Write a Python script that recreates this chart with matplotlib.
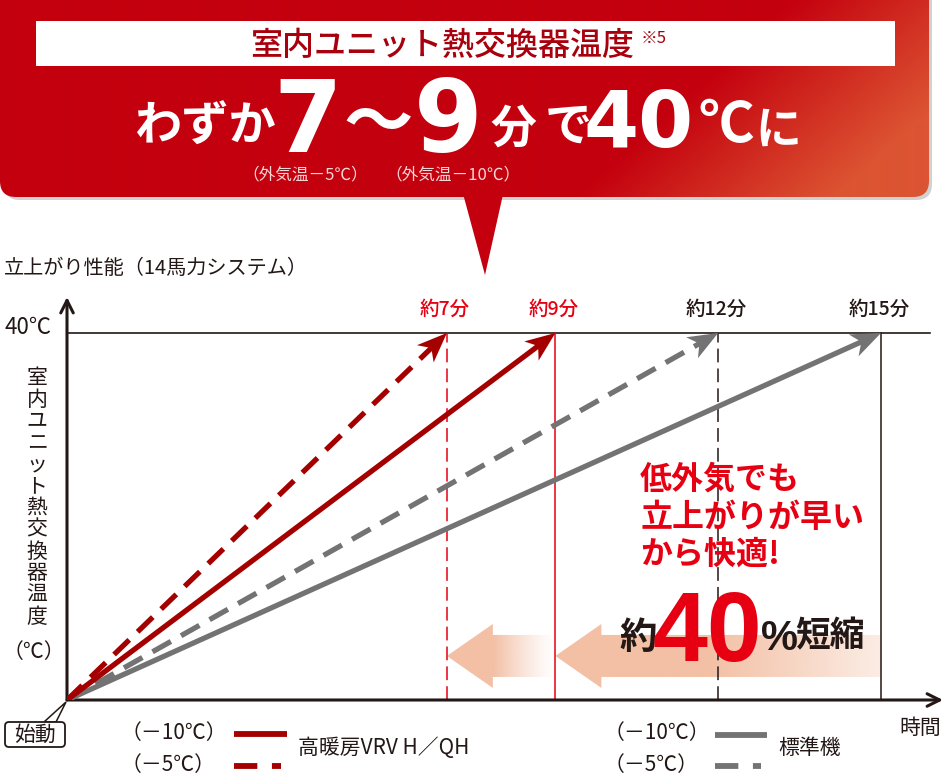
import numpy as np
import matplotlib
matplotlib.use("Agg")
import matplotlib.pyplot as plt
from matplotlib.patches import Polygon, FancyBboxPatch, Rectangle

plt.rcParams['font.family'] = ['Noto Sans CJK JP', 'DejaVu Sans']

# --- data -------------------------------------------------------------
times = [15, 12, 9, 7]               # 分で40℃に到達
outdoor = ["-10", "-5", "-10", "-5"]  # 外気温
models = ["標準機", "標準機", "高暖房VRV H／QH", "高暖房VRV H／QH"]
target_temp = 40
time_labels = ["約15分", "約12分", "約9分", "約7分"]

# 短縮を示す矢印 (遅い方 -> 速い方)
short_from = [9, 15]
short_to = [7, 9]

RED_LINE = '#a50000'
GREY_LINE = '#737373'
RED_TXT = '#e60012'
INK = '#231815'

fig = plt.figure(figsize=(9.46, 7.84), dpi=100)

# chart axes in pixel layout: origin (67,700), top 297, right 943
X0, Y0, XR, YT = 67, 700, 943, 297
px_min = (881 - X0) / 15.0
px_deg = (Y0 - 333) / 40.0
ax = fig.add_axes([X0 / 946, (784 - Y0) / 784, (XR - X0) / 946, (Y0 - YT) / 784])
ax.set_xlim(0, (XR - X0) / px_min)
ax.set_ylim(0, (Y0 - YT) / px_deg)
ax.axis('off')

# overlay axes in pixel coords
ov = fig.add_axes([0, 0, 1, 1], zorder=5)
ov.set_xlim(0, 946)
ov.set_ylim(784, 0)
ov.axis('off')
ov.patch.set_alpha(0)


def d2p(x, y):
    return X0 + x * px_min, Y0 - y * px_deg


def p2d(px, py):
    return (px - X0) / px_min, (Y0 - py) / px_deg


# shortening arrows (salmon gradient)
yc = 4.8
body_h = 21 / px_deg
head_h = 32 / px_deg
head_l = 46 / px_min
for k, (t0, t1) in enumerate(zip(short_from, short_to)):
    xb = t1 + head_l
    poly = Polygon([(t1, yc), (xb, yc + head_h), (xb, yc + body_h), (t0, yc + body_h),
                    (t0, yc - body_h), (xb, yc - body_h), (xb, yc - head_h)],
                   closed=True, facecolor='none', edgecolor='white' if k == 1 else 'none',
                   lw=1.5, zorder=1)
    ax.add_patch(poly)
    xs = np.linspace(t1, t0, 300)
    if k == 0:
        alpha = np.clip(1 - (xs - xb) / (t0 - xb), 0, 1) ** 1.3
        alpha = np.where(xs < xb, 1, alpha)
    else:
        mid = xb + 2.0
        alpha = np.where(xs < mid, 1, 1 - 0.7 * (xs - mid) / (t0 - mid))
    img = np.zeros((2, 300, 4))
    img[..., 0] = 243 / 255
    img[..., 1] = 192 / 255
    img[..., 2] = 165 / 255
    img[..., 3] = alpha
    im = ax.imshow(img, extent=(t1, t0, yc - head_h, yc + head_h), aspect='auto', zorder=1)
    im.set_clip_path(poly)
ax.set_xlim(0, (XR - X0) / px_min)
ax.set_ylim(0, (Y0 - YT) / px_deg)

# 40℃ line and vertical guides
ax.plot([0, (930 - X0) / px_min], [target_temp, target_temp], color=INK, lw=1.2, zorder=2)
guide_col = {15: INK, 12: INK, 9: RED_TXT, 7: RED_TXT}
guide_ls = {15: '-', 12: (0, (9, 4)), 9: '-', 7: (0, (9, 4))}
for t in times:
    ax.plot([t, t], [0, target_temp], color=guide_col[t], ls=guide_ls[t], lw=1.1, zorder=2)

# axes arrows
ax.annotate('', xy=(1, 0), xytext=(0, 0), xycoords='axes fraction',
            arrowprops=dict(arrowstyle='->,head_length=0.9,head_width=0.45', lw=2.2, color=INK,
                            shrinkA=0, shrinkB=0), zorder=3)
ax.annotate('', xy=(0, 1), xytext=(0, 0), xycoords='axes fraction',
            arrowprops=dict(arrowstyle='->,head_length=0.9,head_width=0.45', lw=2.2, color=INK,
                            shrinkA=0, shrinkB=0), zorder=3)

# rise lines with arrow heads
for t, o in zip(times, outdoor):
    col = RED_LINE if t in (9, 7) else GREY_LINE
    ls = '-' if o == "-10" else (0, (4, 2.2))
    tx, ty = d2p(t, target_temp)
    ox, oy = d2p(0, 0)
    v = np.array([tx - ox, ty - oy])
    u = v / np.hypot(*v)
    n = np.array([-u[1], u[0]])
    L, W = 30, 12
    tip = np.array([tx, ty])
    back = tip - L * u
    notch = tip - 0.72 * L * u
    head = [p2d(*tip), p2d(*(back + W * n)), p2d(*notch), p2d(*(back - W * n))]
    lx, ly = p2d(*(notch + 2 * u))
    ax.plot([0, lx], [0, ly], color=col, lw=3.8, ls=ls, solid_capstyle='butt',
            dash_capstyle='butt', zorder=4)
    ax.add_patch(Polygon(head, closed=True, color=col, lw=0, zorder=4))

for t, lab in zip(times, time_labels):
    c = RED_TXT if t in (9, 7) else INK
    x, _ = d2p(t, 0)
    ov.text(x - 2, 309, lab, color=c, fontsize=14, ha='center', va='center', fontweight='medium')

# axis texts
ov.text(4, 268, "立上がり性能（14馬力システム）", fontsize=14.5, ha='left', va='center', color=INK)
ov.text(4, 327, "40℃", fontsize=16, ha='left', va='center', color=INK)
for i, ch in enumerate("室内ユニット熱交換器温度"):
    ov.text(37, 378 + i * 21.7, ch, fontsize=15, ha='center', va='center', color=INK)
ov.text(34, 652, "（℃）", fontsize=15, ha='center', va='center', color=INK)
ov.text(920, 728, "時間", fontsize=15, ha='center', va='center', color=INK)

ov.add_patch(Polygon([(44, 722), (66, 702), (56, 722)], closed=True, fc='white', ec=INK, lw=1.1, zorder=6))
ov.add_patch(FancyBboxPatch((5, 722), 60, 25, boxstyle='round,pad=0,rounding_size=4',
                            fc='white', ec=INK, lw=1.3, zorder=7))
ov.text(35, 735, "始動", fontsize=15, ha='center', va='center', color=INK, zorder=8)

# legend
ov.text(174, 733, "（－10℃）", fontsize=15, ha='center', va='center', color=INK)
ov.text(168, 765, "（－5℃）", fontsize=15, ha='center', va='center', color=INK)
ov.plot([234, 287], [734, 734], color=RED_LINE, lw=4.2, solid_capstyle='butt')
ov.plot([234, 281], [766, 766], color=RED_LINE, lw=4.2, ls=(0, (4, 2.5)))
ov.text(298, 748, "高暖房VRV H／QH", fontsize=15, ha='left', va='center', color=INK)
ov.text(657, 733, "（－10℃）", fontsize=15, ha='center', va='center', color=INK)
ov.text(651, 765, "（－5℃）", fontsize=15, ha='center', va='center', color=INK)
ov.plot([715, 767], [735, 735], color=GREY_LINE, lw=4.2, solid_capstyle='butt')
ov.plot([715, 761], [766, 766], color=GREY_LINE, lw=4.2, ls=(0, (4, 2.5)))
ov.text(778, 748, "標準機", fontsize=15, ha='left', va='center', color=INK)

# message
for i, line in enumerate(["低外気でも", "立上がりが早い", "から快適!"]):
    ov.text(640, 480 + i * 37.5, line, fontsize=23, fontweight='bold', color=RED_TXT,
            ha='left', va='center')
ov.text(619, 637, "約", fontsize=27, fontweight='bold', color=INK, ha='left', va='center')
ov.text(652, 661, "40", fontsize=71, fontweight='bold', color=RED_TXT, ha='left', va='baseline',
        family='Liberation Sans')
ov.text(761, 650, "%", fontsize=30, fontweight='bold', color=INK, ha='left', va='baseline',
        family=['Liberation Sans Narrow', 'Liberation Sans'])
ov.text(795, 636, "短縮", fontsize=25, fontweight='bold', color=INK, ha='left', va='center')

# callout box with gradient
shadow = FancyBboxPatch((4, -20), 928, 220, boxstyle='round,pad=0,rounding_size=16',
                        fc='#999999', ec='none', alpha=0.45, zorder=1)
ov.add_patch(shadow)
box = FancyBboxPatch((0, -22), 929, 219, boxstyle='round,pad=0,rounding_size=16',
                     fc='none', ec='none', zorder=2)
ov.add_patch(box)
gx, gy = np.meshgrid(np.arange(0, 932), np.arange(0, 200))
s = np.clip((gx + 1.1 * gy - 790) / 260, 0, 1)
c0 = np.array([196, 0, 14]) / 255
c1 = np.array([220, 84, 50]) / 255
grad = c0[None, None, :] * (1 - s[..., None]) + c1[None, None, :] * s[..., None]
gim = ov.imshow(grad, extent=(0, 932, 200, 0), origin='upper', aspect='auto', zorder=2)
gim.set_clip_path(box)
ov.add_patch(Polygon([(462, 190), (504, 190), (485, 275)], closed=True, fc='#c4000e', ec='none', zorder=2))
ov.set_xlim(0, 946)
ov.set_ylim(784, 0)

ov.add_patch(Rectangle((36, 21), 859, 45, fc='white', ec='none', zorder=3))
ov.text(250, 46, "室内ユニット熱交換器温度", fontsize=23, fontweight='medium', color='#a8000c',
        ha='left', va='center', zorder=4)
ov.text(641, 38, "※5", fontsize=12, color='#a8000c', ha='left', va='center', zorder=4)

W_ = 'white'
BIG = 'DejaVu Sans'
ov.text(205, 127, "わずか", fontsize=34, fontweight='bold', color=W_, ha='center', va='center', zorder=4)
ov.text(273, 152, "7", fontsize=71, fontweight='bold', color=W_, ha='left', va='baseline',
        family=BIG, zorder=4)
ov.text(378, 125, "〜", fontsize=50, fontweight='bold', color=W_, ha='center', va='center', zorder=4)
ov.text(414, 152, "9", fontsize=71, fontweight='bold', color=W_, ha='left', va='baseline',
        family=BIG, zorder=4)
ov.text(513, 130, "分", fontsize=33, fontweight='bold', color=W_, ha='center', va='center', zorder=4)
ov.text(568, 127, "で", fontsize=34, fontweight='bold', color=W_, ha='center', va='center', zorder=4)
ov.text(583, 147, "40", fontsize=57, fontweight='bold', color=W_, ha='left', va='baseline',
        family=BIG, zorder=4)
ov.text(726, 126, "℃", fontsize=40, fontweight='bold', color=W_, ha='center', va='center', zorder=4)
ov.text(778, 131, "に", fontsize=33, fontweight='bold', color=W_, ha='center', va='center', zorder=4)
ov.text(305, 175, "（外気温－5℃）", fontsize=12, color='#f6d6d6', ha='center', va='center', zorder=4)
ov.text(453, 175, "（外気温－10℃）", fontsize=12, color='#f6d6d6', ha='center', va='center', zorder=4)

fig.savefig("out.png", dpi=100)
